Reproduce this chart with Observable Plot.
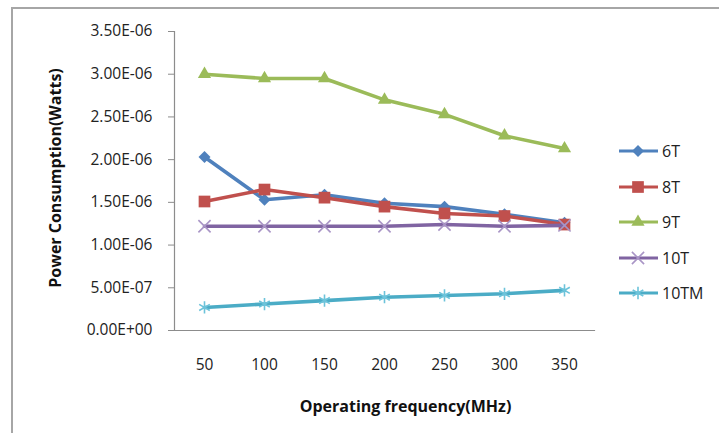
<!DOCTYPE html>
<html>
<head>
<meta charset="utf-8">
<script src="https://cdn.jsdelivr.net/npm/d3@7"></script>
<script src="https://cdn.jsdelivr.net/npm/@observablehq/plot@0.6"></script>
<style>
  html, body { margin: 0; padding: 0; background: #fff; }
  #wrap { position: relative; width: 719px; height: 433px; overflow: hidden; font-family: "Open Sans", sans-serif; }
  #border { position: absolute; left: 11px; top: 7px; right: -5px; bottom: -5px; border-top: 2px solid #a6a6a6; border-left: 2px solid #a6a6a6; }
  #chart { position: absolute; left: 0; top: 0; }
  #legend { position: absolute; left: 0; top: 0; }
</style>
</head>
<body>
<div id="wrap"><div id="border"></div><div id="chart"></div><svg id="legend" width="719" height="433"></svg></div>
<script>
const frequencies = [50, 100, 150, 200, 250, 300, 350];
const seriesNames = ["6T", "8T", "9T", "10T", "10TM"];
const values6T   = [2.03e-6, 1.53e-6, 1.59e-6, 1.49e-6, 1.45e-6, 1.36e-6, 1.26e-6];
const values8T   = [1.51e-6, 1.65e-6, 1.555e-6, 1.45e-6, 1.37e-6, 1.34e-6, 1.24e-6];
const values9T   = [3.00e-6, 2.95e-6, 2.95e-6, 2.70e-6, 2.53e-6, 2.28e-6, 2.13e-6];
const values10T  = [1.22e-6, 1.22e-6, 1.22e-6, 1.22e-6, 1.24e-6, 1.22e-6, 1.23e-6];
const values10TM = [0.27e-6, 0.31e-6, 0.35e-6, 0.39e-6, 0.41e-6, 0.43e-6, 0.47e-6];
const yTicks = [0, 0.5e-6, 1.0e-6, 1.5e-6, 2.0e-6, 2.5e-6, 3.0e-6, 3.5e-6];
const colors = ["#4F81BD", "#C0504D", "#9BBB59", "#8064A2", "#4BACC6"];
const markerColors = ["#4F81BD", "#C0504D", "#9BBB59", "#A995C6", "#6CC3DA"];
const symbols = ["diamond2", "square", "triangle", "times", "asterisk"];
const symbolR = [5.4, 6.6, 4.9, 5.6, 5.8];
const filled = [true, true, true, false, false];
const xTitle = "Operating frequency(MHz)";
const yTitle = "Power Consumption(Watts)";

const allValues = [values6T, values8T, values9T, values10T, values10TM];
const series = seriesNames.map((name, i) => frequencies.map((f, j) => ({series: name, freq: f, value: allValues[i][j]})));

function sci(v) {
  if (Math.abs(v) < 1e-15) return "0.00E+00";
  const [m, e] = v.toExponential(2).split("e");
  const n = +e;
  return m + "E" + (n < 0 ? "-" : "+") + String(Math.abs(n)).padStart(2, "0");
}

const marks = [
  Plot.frame({anchor: "left", stroke: "#8c8c8c", strokeWidth: 1.2}),
  Plot.frame({anchor: "bottom", stroke: "#8c8c8c", strokeWidth: 1.2}),
  Plot.axisY({ticks: yTicks, tickFormat: sci, tickSize: 6, tickPadding: 16, stroke: "#8c8c8c", fontSize: 15.5, label: null, color: "#222"}),
  Plot.axisX({tickSize: 0, tickPadding: 28, fontSize: 15.5, label: null, color: "#222"})
];
series.forEach((d, i) => {
  marks.push(Plot.line(d, {x: "freq", y: "value", stroke: colors[i], strokeWidth: 3.6}));
  if (filled[i]) {
    marks.push(Plot.dot(d, {x: "freq", y: "value", symbol: () => symbols[i], r: symbolR[i], fill: colors[i], stroke: "none"}));
  } else {
    marks.push(Plot.dot(d, {x: "freq", y: "value", symbol: () => symbols[i], r: symbolR[i], fill: "none", stroke: markerColors[i], strokeWidth: 1.6}));
  }
});

const chart = Plot.plot({
  width: 719, height: 433,
  marginLeft: 174, marginRight: 125, marginTop: 31, marginBottom: 103,
  style: {background: "transparent", fontFamily: "Open Sans, sans-serif", color: "#222"},
  x: {type: "point", domain: frequencies, padding: 0.5, axis: null},
  y: {domain: [0, 3.5e-6], axis: null},
  symbol: {type: "identity"},
  marks: [
    ...marks,
    Plot.text([xTitle], {frameAnchor: "bottom", textAnchor: "middle", lineAnchor: "middle", dx: 21, dy: 76, fontSize: 16, fontWeight: "bold", fill: "#111"}),
    Plot.text([yTitle], {frameAnchor: "left", textAnchor: "middle", lineAnchor: "middle", dx: -119, dy: -3, rotate: -90, fontSize: 16, fontWeight: "bold", fill: "#111"})
  ]
});
document.getElementById("chart").appendChild(chart);

// legend
const lg = d3.select("#legend");
const legendY = [151, 187, 222, 258, 293];
const symMap = {diamond2: d3.symbolDiamond2, square: d3.symbolSquare, triangle: d3.symbolTriangle, times: d3.symbolTimes, asterisk: d3.symbolAsterisk};
seriesNames.forEach((name, i) => {
  const g = lg.append("g").attr("transform", `translate(0,${legendY[i]})`);
  g.append("line").attr("x1", 619).attr("x2", 658).attr("y1", 0).attr("y2", 0).attr("stroke", colors[i]).attr("stroke-width", 3);
  const size = Math.PI * symbolR[i] * symbolR[i];
  g.append("path").attr("transform", "translate(638,0)").attr("d", d3.symbol(symMap[symbols[i]], size)())
    .attr("fill", filled[i] ? colors[i] : "none").attr("stroke", filled[i] ? "none" : markerColors[i]).attr("stroke-width", 1.6);
  g.append("text").attr("x", 662).attr("y", 0).attr("dy", "0.35em").attr("font-size", 16).attr("font-family", "Open Sans, sans-serif").attr("fill", "#222").text(name);
});
</script>
</body>
</html>
